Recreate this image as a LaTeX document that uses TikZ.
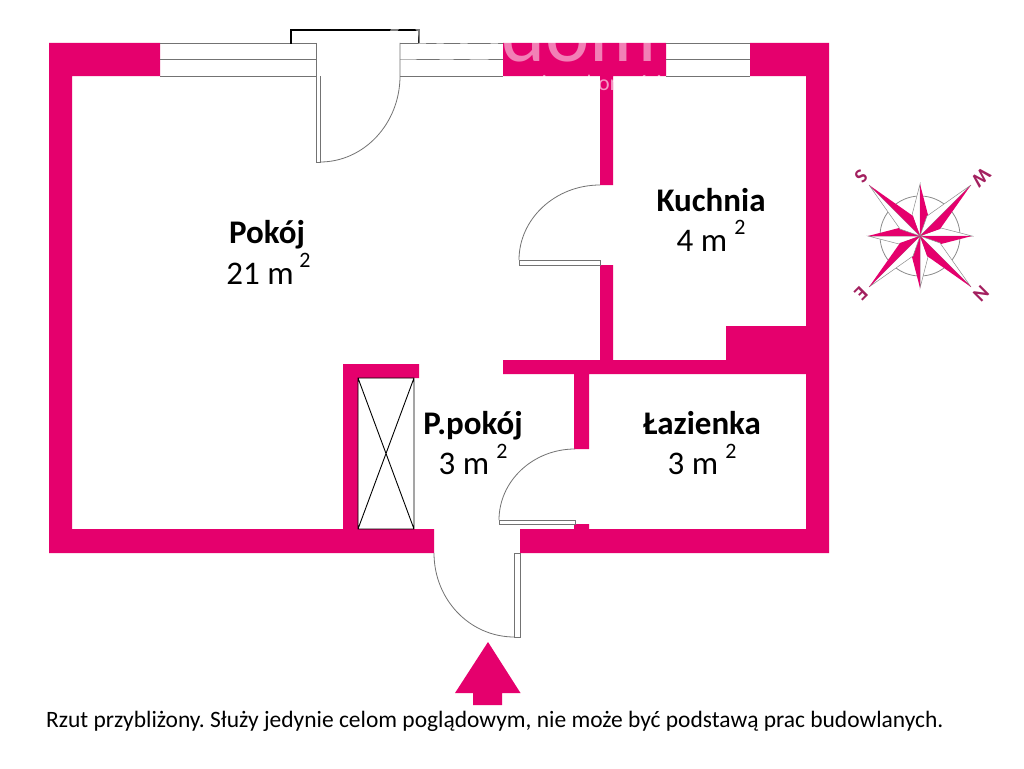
\documentclass[tikz,border=0pt]{standalone}
\usepackage{fontspec}
\setmainfont{Carlito}
\usepackage{xcolor}
\definecolor{wallpink}{HTML}{E5006D}
\definecolor{roselabel}{HTML}{A3205F}
\tikzset{
  wall/.style={fill=wallpink, draw=none},
  thinline/.style={draw=black!55, line width=0.8pt},
  roomname/.style={font=\fontsize{33}{38}\selectfont\bfseries},
  roomarea/.style={font=\fontsize{33}{38}\selectfont},
  squared/.style={font=\fontsize{22}{26}\selectfont},
  roseletter/.style={font=\fontsize{20}{22}\selectfont\bfseries, text=roselabel, inner sep=0pt, rotate=225}
}
\begin{document}
\begin{tikzpicture}[x=1pt,y=-1pt]
\useasboundingbox (0,0) rectangle (1024,768);
\fill[white] (0,0) rectangle (1024,768);
\fill[wall] (49,43) -- (160,43) -- (160,76) -- (72,76) -- (72,529) -- (343,529) -- (343,364) -- (419,364) -- (419,378) -- (358,378) -- (358,529) -- (434,529) -- (434,553) -- (49,553) -- cycle;
\fill[wall] (503,43) -- (666,43) -- (666,76) -- (613,76) -- (613,185) -- (600,185) -- (600,76) -- (503,76) -- cycle;
\fill[wall] (750,43) -- (829,43) -- (829,553) -- (520,553) -- (520,529) -- (574,529) -- (574,524) -- (589,524) -- (589,529) -- (806,529) -- (806,374) -- (589,374) -- (589,449) -- (574,449) -- (574,374) -- (503,374) -- (503,360) -- (600,360) -- (600,265) -- (613,265) -- (613,360) -- (726,360) -- (726,326) -- (806,326) -- (806,76) -- (750,76) -- cycle;
% windows
\draw[thinline] (160,43) -- (316,43) (160,59.5) -- (316,59.5) (160,76) -- (316,76);
\draw[thinline] (400,43) -- (503,43) (400,59.5) -- (503,59.5) (400,76) -- (503,76);
\draw[thinline] (666,43) -- (750,43) (666,59.5) -- (750,59.5) (666,76) -- (750,76);
\draw[black, line width=1.6pt] (291,44) -- (291,30) -- (419,30) -- (419,43);
\node[white, opacity=0.5, anchor=base east, font=\fontsize{84}{88}\selectfont, inner sep=0pt] (brand) at (657,62) {otodom};
\node[white, opacity=0.6, anchor=base east, font=\fontsize{22}{24}\selectfont, inner sep=0pt] (brandsub) at (662,90) {nieruchomości};
% doors
\draw[thinline] (316,43) -- (316,162) -- (320,162) -- (320,76);
\draw[thinline] (400,43) -- (400,76) .. controls (400,123.5) and (364,162) .. (320,162);
\draw[thinline] (519,260) rectangle (600,265.5);
\draw[thinline] (600,185) .. controls (555,185) and (519,219) .. (519,260);
\draw[thinline] (499,520) rectangle (575,524.5);
\draw[thinline] (575,449) .. controls (533,449) and (499,481) .. (499,520);
\draw[thinline] (514.5,553) rectangle (520,637);
\draw[thinline] (434,553) .. controls (434,599.4) and (469.5,637) .. (514.5,637);
% shaft
\draw[black, line width=0.9pt] (358,378) rectangle (414,529) (358,378) -- (414,529) (414,378) -- (358,529);
% entrance arrow
\fill[wall] (488,642) -- (520.5,693) -- (502,693) -- (502,705) -- (473,705) -- (473,693) -- (455,693) -- cycle;
% compass rose
\draw[draw=black!45, line width=0.8pt] (920,236) circle[radius=40];
\foreach \ang in {0,90,180,270} {
  \begin{scope}[shift={(920,236)}, rotate=\ang]
    \draw[black!45, line width=0.5pt, fill=white] (0,-52) -- (-8,-21) -- (0,0) -- cycle;
    \fill[wallpink] (0,-52) -- (8,-21) -- (0,0) -- cycle;
  \end{scope}
}
\foreach \ang in {0,90,180,270} {
  \begin{scope}[shift={(920,236)}, rotate=\ang]
    \draw[black!45, line width=0.5pt, fill=white] (51,-51) -- (7,-20) -- (0,0) -- cycle;
    \fill[wallpink] (51,-51) -- (20,-7) -- (0,0) -- cycle;
  \end{scope}
}
\node[roseletter] (roseS) at (861,176) {S};
\node[roseletter] (roseW) at (981,177) {W};
\node[roseletter] (roseN) at (981,294) {N};
\node[roseletter] (roseE) at (861,294) {E};
% labels
\node[roomname] (pokoj) at (267,235) {Pokój};
\node[roomarea] (pokojarea) at (260,274) {21 m};
\node[squared] (pokojsq) at (305,260) {2};
\node[roomname] (kuchnia) at (711,200) {Kuchnia};
\node[roomarea] (kuchniaarea) at (702,241) {4 m};
\node[squared] (kuchniasq) at (740,227) {2};
\node[roomname] (lazienka) at (702,423) {Łazienka};
\node[roomarea] (lazienkaarea) at (693,464) {3 m};
\node[squared] (lazienkasq) at (731,451) {2};
\node[roomname] (przedpokoj) at (473,426) {P.pokój};
\node[roomarea] (przedpokojarea) at (464,464) {3 m};
\node[squared] (przedpokojsq) at (502,451) {2};
\node[anchor=west, inner sep=0pt, font=\fontsize{23.47}{28}\selectfont\frenchspacing] (caption) at (46,721) {Rzut przybliżony. Służy jedynie celom poglądowym, nie może być podstawą prac budowlanych.};
\end{tikzpicture}
\end{document}
